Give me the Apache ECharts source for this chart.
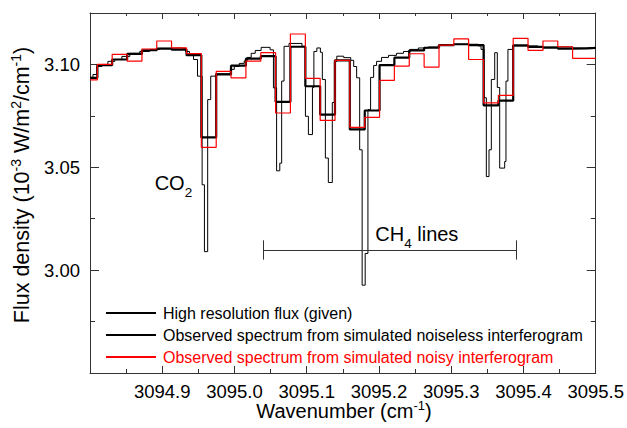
<!DOCTYPE html>
<html><head><meta charset="utf-8">
<script src="https://cdn.jsdelivr.net/npm/echarts@6/dist/echarts.min.js"></script>
<style>html,body{margin:0;padding:0;background:#fff}#c{width:627px;height:428px}</style>
</head><body><div id="c"></div>
<script>
// ---- data ----
// left edges of the coarse (observed) spectral bins, plus the final right edge
const binEdges = [3094.80, 3094.8102, 3094.8307, 3094.8514, 3094.8719, 3094.8924, 3094.9129, 3094.9336,
  3094.9541, 3094.9747, 3094.9952, 3095.0158, 3095.0364, 3095.0569, 3095.0774, 3095.0981, 3095.1186,
  3095.1391, 3095.1596, 3095.1803, 3095.2008, 3095.2213, 3095.2419, 3095.2625, 3095.2831, 3095.3036,
  3095.3241, 3095.3448, 3095.3653, 3095.3858, 3095.4063, 3095.4270, 3095.4475, 3095.4680, 3095.4885, 3095.50];
const noiselessValues = [3.0935, 3.0997, 3.1024, 3.1051, 3.1069, 3.1077, 3.1072, 3.1045, 3.0645, 3.0951,
  3.0994, 3.1028, 3.1040, 3.0818, 3.1086, 3.0894, 3.0756, 3.1020, 3.0684, 3.0776, 3.0997, 3.1033, 3.1068,
  3.1081, 3.1094, 3.1098, 3.1094, 3.0801, 3.0824, 3.1093, 3.1085, 3.1081, 3.1077, 3.1078, 3.1080];
const noisyValues = [3.0925, 3.1000, 3.1049, 3.1016, 3.1075, 3.1114, 3.1080, 3.1053, 3.0597, 3.0966,
  3.0935, 3.1016, 3.1057, 3.0764, 3.1148, 3.0932, 3.0728, 3.1020, 3.0694, 3.0743, 3.0922, 3.0992, 3.1052,
  3.0987, 3.1094, 3.1124, 3.1024, 3.0813, 3.0850, 3.1127, 3.1068, 3.1114, 3.1086, 3.1029, 3.1029];
// high resolution flux: left edges of each step, plus final right edge
const hiResEdges = [3094.8000, 3094.8041, 3094.8096, 3094.8165, 3094.8248, 3094.8344, 3094.8441, 3094.8551,
  3094.8689, 3094.8826, 3094.8964, 3094.9102, 3094.9240, 3094.9322, 3094.9377, 3094.9433, 3094.9488,
  3094.9552, 3094.9584, 3094.9629, 3094.9671, 3094.9740, 3094.9942, 3094.9997, 3095.0066, 3095.0135,
  3095.0176, 3095.0231, 3095.0287, 3095.0369, 3095.0493, 3095.0539, 3095.0583, 3095.0627, 3095.0653,
  3095.0686, 3095.0755, 3095.0934, 3095.0982, 3095.1023, 3095.1079, 3095.1099, 3095.1140, 3095.1189,
  3095.1216, 3095.1258, 3095.1299, 3095.1354, 3095.1382, 3095.1416, 3095.1512, 3095.1609, 3095.1650,
  3095.1691, 3095.1733, 3095.1767, 3095.1809, 3095.1847, 3095.1884, 3095.1926, 3095.1967, 3095.2036,
  3095.2132, 3095.2242, 3095.2339, 3095.2435, 3095.2545, 3095.2683, 3095.2821, 3095.3028, 3095.3372,
  3095.3413, 3095.3455, 3095.3486, 3095.3523, 3095.3555, 3095.3602, 3095.3638, 3095.3671, 3095.3740,
  3095.3758, 3095.3785, 3095.3854, 3095.4198, 3095.4680, 3095.5000];
const hiResValues = [3.0937, 3.0951, 3.0990, 3.1000, 3.1015, 3.1024, 3.1039, 3.1054, 3.1063, 3.1073,
  3.1078, 3.1080, 3.1078, 3.1063, 3.1044, 3.1024, 3.0943, 3.0415, 3.0090, 3.0829, 3.0943, 3.0955, 3.0976,
  3.0990, 3.1005, 3.1017, 3.1034, 3.1054, 3.1068, 3.1083, 3.1071, 3.0886, 3.0483, 3.0520, 3.0919, 3.1088,
  3.1102, 3.1088, 3.0748, 3.0659, 3.0888, 3.1063, 3.1080, 3.1059, 3.0927, 3.0545, 3.0426, 3.0815, 3.1015,
  3.1040, 3.1033, 3.1020, 3.0990, 3.0935, 3.0585, 2.9927, 3.0081, 3.0780, 3.0937, 3.0995, 3.1015, 3.1034,
  3.1044, 3.1054, 3.1063, 3.1073, 3.1080, 3.1085, 3.1093, 3.1098, 3.1090, 3.1073, 3.0838, 3.0455, 3.0585,
  3.0927, 3.1057, 3.0888, 3.0496, 3.0528, 3.0919, 3.1073, 3.1090, 3.1085, 3.1080];
const xTickLabels = ['3094.9', '3095.0', '3095.1', '3095.2', '3095.3', '3095.4', '3095.5'];
const yTickLabels = ['3.00', '3.05', '3.10'];
const seriesNames = ['High resolution flux (given)',
  'Observed spectrum from simulated noiseless interferogram',
  'Observed spectrum from simulated noisy interferogram'];
// CH4 bracket (wavenumber span) and its level
const ch4Span = [3095.04, 3095.39];
const ch4Level = 3.0098;
const ch4CapHalf = 0.0047;

// ---- chart ----
const FONT = "'Liberation Sans', Arial, Helvetica, sans-serif";
function stepData(edges, vals) {
  const d = vals.map((v, i) => [edges[i], v]);
  d.push([edges[vals.length], vals[vals.length - 1]]);
  return d;
}
const chart = echarts.init(document.getElementById('c'), null, {renderer: 'svg'});
const AX = '#333';
function xAx(pos, labels) {
  return {
    type: 'value', position: pos, min: 3094.8, max: 3095.5, interval: 0.1,
    axisLine: {show: true, onZero: false, lineStyle: {color: AX, width: 1}},
    axisTick: {show: true, inside: true, length: pos === 'bottom' ? 7 : 6, lineStyle: {color: AX}},
    minorTick: {show: true, splitNumber: 2, length: pos === 'bottom' ? 4 : 3, lineStyle: {color: AX}},
    splitLine: {show: false},
    axisLabel: {show: labels, margin: 11, color: '#000', fontFamily: FONT, fontSize: 18.5, lineHeight: 14,
      showMinLabel: false, showMaxLabel: true,
      formatter: v => { const s = v.toFixed(1); return xTickLabels.includes(s) ? s : ''; }}
  };
}
function yAx(pos, minor, labels) {
  return {
    type: 'value', position: pos, min: 2.95, max: 3.125, interval: minor ? 0.025 : 0.05,
    axisLine: {show: !minor, onZero: false, lineStyle: {color: AX, width: 1}},
    axisTick: {show: true, inside: true, length: minor ? 5 : 9, lineStyle: {color: AX}},
    splitLine: {show: false},
    axisLabel: {show: labels, margin: 10, color: '#000', fontFamily: FONT, fontSize: 18.5,
      showMinLabel: false, showMaxLabel: false,
      formatter: v => { const s = v.toFixed(2); return yTickLabels.includes(s) ? s : ''; }}
  };
}
const option = {
  animation: false,
  backgroundColor: '#fff',
  grid: {left: 90, right: 29, top: 13, bottom: 55, containLabel: false},
  xAxis: [xAx('bottom', true), xAx('top', false)],
  yAxis: [yAx('left', false, true), yAx('left', true, false), yAx('right', false, false), yAx('right', true, false)],
  legend: {
    orient: 'vertical', left: 100, top: 300, itemWidth: 50, itemHeight: 14, itemGap: 6,
    itemStyle: {opacity: 0},
    textStyle: {fontFamily: FONT, fontSize: 16, lineHeight: 14, color: '#000', padding: [0, 0, 0, 2]},
    data: [{name: seriesNames[0]}, {name: seriesNames[1]},
      {name: seriesNames[2], textStyle: {color: '#ff0000'}}]
  },
  series: [
    {name: seriesNames[0], type: 'line', step: 'end', symbol: 'none', xAxisIndex: 0, yAxisIndex: 0,
      lineStyle: {color: '#000', width: 1}, itemStyle: {color: '#000'},
      data: stepData(hiResEdges, hiResValues), z: 2},
    {name: seriesNames[1], type: 'line', step: 'end', symbol: 'none', xAxisIndex: 0, yAxisIndex: 0,
      lineStyle: {color: '#000', width: 2.2}, itemStyle: {color: '#000'},
      data: stepData(binEdges, noiselessValues), z: 3},
    {name: seriesNames[2], type: 'line', step: 'end', symbol: 'none', xAxisIndex: 0, yAxisIndex: 0,
      lineStyle: {color: '#ff0000', width: 1.2}, itemStyle: {color: '#ff0000'},
      data: stepData(binEdges, noisyValues), z: 4},
    {name: 'bracket', type: 'line', data: [], xAxisIndex: 0, yAxisIndex: 0, silent: true,
      markLine: {symbol: 'none', silent: true, animation: false, label: {show: false},
        lineStyle: {color: '#333', width: 1, type: 'solid'},
        data: [
          [{coord: [ch4Span[0], ch4Level]}, {coord: [ch4Span[1], ch4Level]}],
          [{coord: [ch4Span[0], ch4Level - ch4CapHalf]}, {coord: [ch4Span[0], ch4Level + ch4CapHalf]}],
          [{coord: [ch4Span[1], ch4Level - ch4CapHalf]}, {coord: [ch4Span[1], ch4Level + ch4CapHalf]}]
        ]}}
  ]
};
chart.setOption(option);

const P = (x, y) => chart.convertToPixel({xAxisIndex: 0, yAxisIndex: 0}, [x, y]);
const co2 = P(3094.8895, 3.0425);
const ch4 = P(3095.1949, 3.0174);
const subRich = {
  a: {fontSize: 20, fontFamily: FONT, lineHeight: 20, color: '#000'},
  s: {fontSize: 13.5, fontFamily: FONT, lineHeight: 13, padding: [19, 0, 0, 0], color: '#000'}
};
const titleRich = {
  a: {fontSize: 20, fontFamily: FONT, lineHeight: 16, color: '#000'},
  p: {fontSize: 13, fontFamily: FONT, lineHeight: 10, padding: [0, 0, 12, 0], color: '#000'}
};
const yTitleRich = {
  a: {fontSize: 21.5, fontFamily: FONT, lineHeight: 18, color: '#000'},
  p: {fontSize: 14, fontFamily: FONT, lineHeight: 10, padding: [0, 0, 13, 0], color: '#000'}
};
chart.setOption({
  graphic: [
    {type: 'text', x: co2[0], y: co2[1], silent: true,
      style: {text: '{a|CO}{s|2}', align: 'left', verticalAlign: 'middle', rich: subRich}},
    {type: 'text', x: ch4[0], y: ch4[1], silent: true,
      style: {text: '{a|CH}{s|4}{a| lines}', align: 'left', verticalAlign: 'middle', rich: subRich}},
    {type: 'text', x: 344, y: 411, silent: true,
      style: {text: '{a|Wavenumber (cm}{p|-1}{a|)}', align: 'center', verticalAlign: 'middle', rich: titleRich}},
    {type: 'text', x: 22, y: 185, rotation: Math.PI / 2, silent: true,
      style: {text: '{a|Flux density (10}{p|-3}{a| W/m}{p|2}{a|/cm}{p|-1}{a|)}', align: 'center', verticalAlign: 'middle', rich: yTitleRich}}
  ]
});
</script></body></html>
